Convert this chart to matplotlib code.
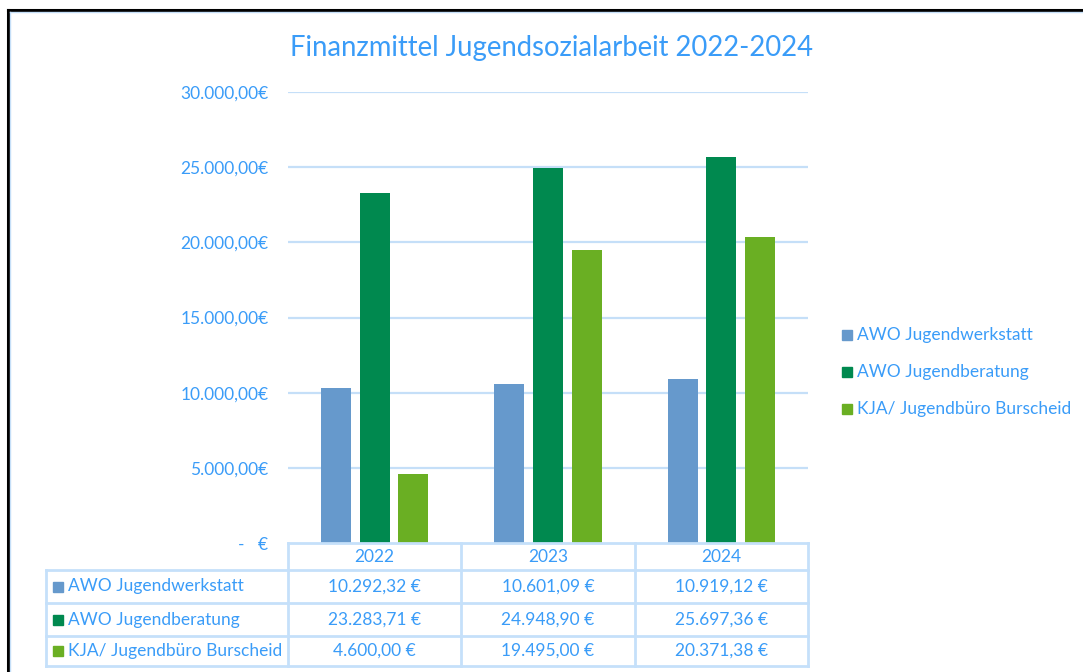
import matplotlib
matplotlib.use("Agg")
import matplotlib.pyplot as plt
from matplotlib.lines import Line2D
from matplotlib.patches import Rectangle
import numpy as np

# Data
years = ["2022", "2023", "2024"]
series = ["AWO Jugendwerkstatt", "AWO Jugendberatung", "KJA/ Jugendbüro Burscheid"]
jugendwerkstatt = [10292.32, 10601.09, 10919.12]
jugendberatung = [23283.71, 24948.90, 25697.36]
jugendbuero = [4600.00, 19495.00, 20371.38]
colors = ["#6699CC", "#00894F", "#6AAF23"]
text_col = "#3A9CF8"
grid_col = "#C5DFF8"

plt.rcParams["font.family"] = ["Lato", "DejaVu Sans"]

W, H = 1083, 672
fig = plt.figure(figsize=(W / 100, H / 100), dpi=100)


def fx(px):
    return px / W


def fy(py):
    return 1 - py / H


def de(v):
    # German number format
    s = f"{v:,.2f}"
    return s.replace(",", "X").replace(".", ",").replace("X", ".")


# frame of the chart object
fig.add_artist(Line2D([fx(8), fx(W)], [fy(10), fy(10)], color="black", lw=2.2))
fig.add_artist(Line2D([fx(8), fx(8)], [fy(10), fy(H)], color="black", lw=2.2))
fig.add_artist(Line2D([fx(10), fx(W)], [fy(12), fy(12)], color=grid_col, lw=1))
fig.add_artist(Line2D([fx(10), fx(10)], [fy(12), fy(H)], color=grid_col, lw=1))

# main bar axes
x0, x1, y0, y1 = 288, 808, 92, 543
ax = fig.add_axes([fx(x0), fy(y1), fx(x1 - x0), (y1 - y0) / H])
ax.set_xlim(-0.5, 2.5)
ax.set_ylim(0, 30000)
x = np.arange(len(years))
w = 0.173
off = 0.223
for i, vals in enumerate([jugendwerkstatt, jugendberatung, jugendbuero]):
    ax.bar(x + (i - 1) * off, vals, width=w, color=colors[i], zorder=3)

ticks = np.arange(0, 30001, 5000)
ax.set_yticks(ticks)
ax.set_yticklabels(["-   €" if t == 0 else de(t) + "€" for t in ticks])
ax.tick_params(axis="y", length=0, pad=14, labelsize=12.5, labelcolor=text_col)
ax.set_xticks([])
for t in ticks[1:]:
    ax.axhline(t, color=grid_col, lw=1.6, zorder=1)
for s in ax.spines.values():
    s.set_visible(False)

fig.text(fx(551), fy(48), "Finanzmittel Jugendsozialarbeit 2022-2024",
         ha="center", va="center", fontsize=19.8, color=text_col)

# data table below the plot
tax = fig.add_axes([0, 0, 1, 1], facecolor="none")
tax.set_xlim(0, W)
tax.set_ylim(H, 0)
tax.axis("off")
cols = [288, 461, 635, 808]
rows = [543, 570, 603, 636, 666]
lc = "#C5E0FA"
tax.plot([288, 808], [543, 543], color=lc, lw=2)
for r in rows[1:]:
    tax.plot([46, 808], [r, r], color=lc, lw=2)
tax.plot([46, 46], [570, 666], color=lc, lw=2)
for c in cols:
    tax.plot([c, c], [543, 666], color=lc, lw=2)
for j, yr in enumerate(years):
    tax.text((cols[j] + cols[j + 1]) / 2, (rows[0] + rows[1]) / 2 + 1, yr,
             ha="center", va="center", fontsize=12.5, color=text_col)
for i, vals in enumerate([jugendwerkstatt, jugendberatung, jugendbuero]):
    yc = (rows[i + 1] + rows[i + 2]) / 2
    tax.add_patch(Rectangle((53, yc - 5), 10, 10, color=colors[i]))
    tax.text(68, yc, series[i], ha="left", va="center", fontsize=12.5, color=text_col)
    for j, v in enumerate(vals):
        tax.text((cols[j] + cols[j + 1]) / 2, yc, de(v) + " €",
                 ha="center", va="center", fontsize=12.5, color=text_col)

# legend on the right
for i, name in enumerate(series):
    yc = 335 + i * 37
    tax.add_patch(Rectangle((842, yc - 5), 10, 10, color=colors[i]))
    tax.text(857, yc, name, ha="left", va="center", fontsize=12.5, color=text_col)

fig.savefig("out.png", dpi=100)
